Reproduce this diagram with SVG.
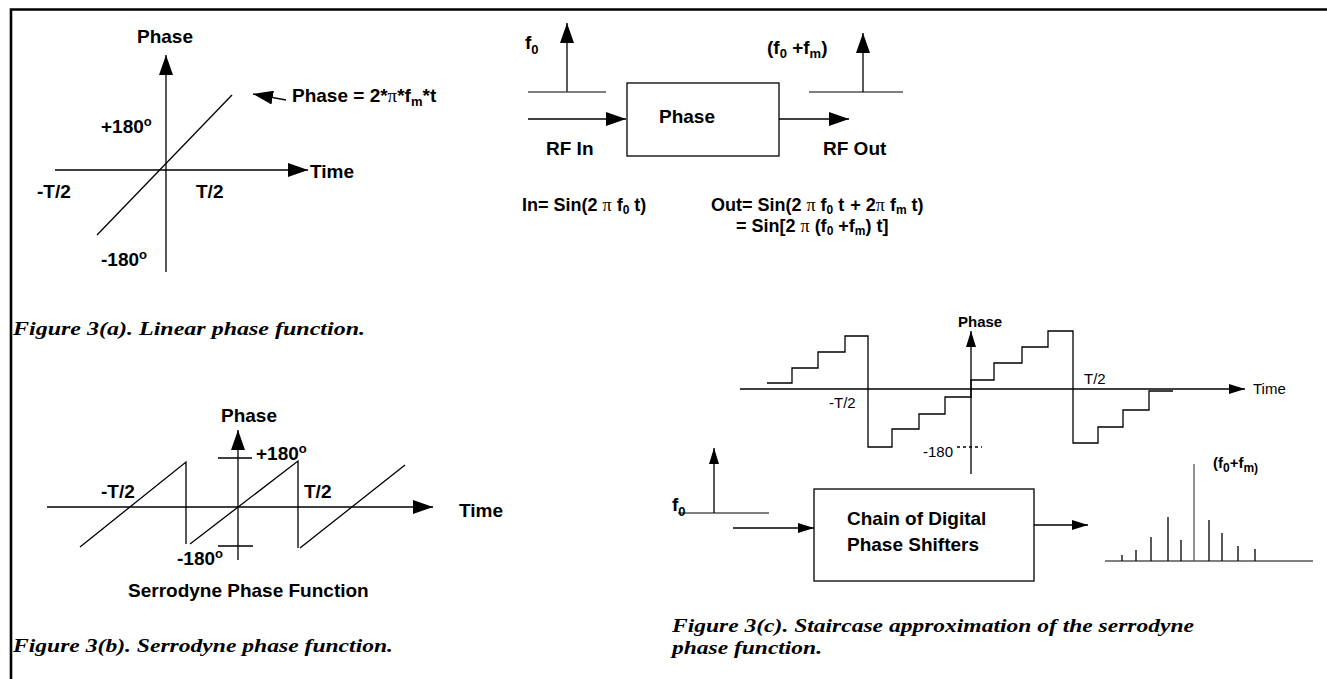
<svg xmlns="http://www.w3.org/2000/svg" width="1327" height="679" viewBox="0 0 1327 679">
<defs>
<marker id="arrL" markerUnits="userSpaceOnUse" markerWidth="20" markerHeight="14" refX="20" refY="7" orient="auto"><path d="M0,0 L20,7 L0,14 Z" fill="#000"/></marker>
<marker id="arrS" markerUnits="userSpaceOnUse" markerWidth="16" markerHeight="10" refX="16" refY="5" orient="auto"><path d="M0,0 L16,5 L0,10 Z" fill="#000"/></marker>
<style>
.ln{stroke:#000;stroke-width:1.3;fill:none}
.gl{stroke:#555;stroke-width:1.3;fill:none}
.t{font-family:"Liberation Sans",Arial,sans-serif;font-weight:bold;font-size:19px;fill:#000}
.eq{font-family:"Liberation Sans",Arial,sans-serif;font-weight:bold;font-size:18px;fill:#000}
.ts{font-family:"Liberation Sans",Arial,sans-serif;font-size:15px;fill:#000}
.tsb{font-family:"Liberation Sans",Arial,sans-serif;font-weight:bold;font-size:15px;fill:#000}
.pi{font-family:"Liberation Serif","Times New Roman",serif;font-weight:normal}
.cap{font-family:"Liberation Serif","Times New Roman",serif;font-weight:bold;font-style:italic;font-size:19.5px;fill:#000}
.box{fill:#fff;stroke:#000;stroke-width:1.3}
</style>
</defs>
<rect width="1327" height="679" fill="#fff"/>
<path d="M11,679 V9.5 H1327" stroke="#000" stroke-width="2.6" fill="none"/>

<!-- Figure 3(a) -->
<g id="fig3a">
<line class="ln" x1="166" y1="272" x2="166" y2="55" marker-end="url(#arrL)"/>
<line class="ln" x1="55" y1="170" x2="308" y2="170" marker-end="url(#arrL)"/>
<line class="ln" x1="97" y1="235" x2="232" y2="95"/>
<line class="ln" x1="286" y1="100" x2="253" y2="94" marker-end="url(#arrL)"/>
<text class="t" x="165" y="43" text-anchor="middle">Phase</text>
<text class="t" x="310" y="178">Time</text>
<text class="t" x="101" y="133">+180<tspan font-size="13" dy="-7">o</tspan></text>
<text class="t" x="37" y="198">-T/2</text>
<text class="t" x="196" y="198">T/2</text>
<text class="t" x="101" y="266">-180<tspan font-size="13" dy="-7">o</tspan></text>
<text class="t" x="292" y="102" font-size="19.5">Phase = 2*<tspan class="pi">π</tspan>*f<tspan font-size="13" dy="4">m</tspan><tspan dy="-4">*t</tspan></text>
<text class="cap" x="13" y="335" textLength="352" lengthAdjust="spacingAndGlyphs">Figure 3(a). Linear phase function.</text>
</g>

<!-- Phase modulator block -->
<g id="connectors">
<line class="ln" x1="567" y1="92" x2="567" y2="23" marker-end="url(#arrL)"/>
<line class="gl" x1="528" y1="92" x2="606" y2="92"/>
<line class="ln" x1="528" y1="119" x2="626" y2="119" marker-end="url(#arrL)"/>
<line class="ln" x1="779" y1="119" x2="849" y2="119" marker-end="url(#arrL)"/>
<line class="gl" x1="809" y1="92" x2="903" y2="92"/>
<line class="ln" x1="863" y1="92" x2="863" y2="33" marker-end="url(#arrL)"/>
<line class="ln" x1="733" y1="528" x2="814" y2="528" marker-end="url(#arrS)"/>
<line class="ln" x1="1034" y1="525" x2="1088" y2="525" marker-end="url(#arrS)"/>
<line class="gl" x1="678" y1="513" x2="769" y2="513"/>
<line class="ln" x1="714" y1="513" x2="714" y2="448" marker-end="url(#arrS)"/>
</g>
<g id="phase-block">
<rect class="box" x="627" y="83" width="152" height="73"/>
<text class="t" x="659" y="123">Phase</text>
</g>
<g id="phase-labels">
<text class="t" x="525" y="49">f<tspan font-size="13" dy="5">0</tspan></text>
<text class="t" x="767" y="54">(f<tspan font-size="13" dy="4">0</tspan><tspan dy="-4"> +f</tspan><tspan font-size="13" dy="4">m</tspan><tspan dy="-4">)</tspan></text>
<text class="t" x="546" y="155">RF In</text>
<text class="t" x="823" y="155">RF Out</text>
<text class="eq" x="522" y="211">In= Sin(2 <tspan class="pi">π</tspan> f<tspan font-size="12" dy="3">0</tspan><tspan dy="-3"> t)</tspan></text>
<text class="eq" x="711" y="211">Out= Sin(2 <tspan class="pi">π</tspan> f<tspan font-size="12" dy="3">0</tspan><tspan dy="-3"> t</tspan><tspan dx="6">+ 2</tspan><tspan class="pi">π</tspan> f<tspan font-size="12" dy="3">m</tspan><tspan dy="-3"> t)</tspan></text>
<text class="eq" x="736" y="232">= Sin[2 <tspan class="pi">π</tspan> (f<tspan font-size="12" dy="3">0</tspan><tspan dy="-3"> +f</tspan><tspan font-size="12" dy="3">m</tspan><tspan dy="-3">) t]</tspan></text>
</g>

<!-- Figure 3(b) -->
<g id="fig3b">
<line class="ln" x1="238" y1="560" x2="238" y2="430" marker-end="url(#arrL)"/>
<line class="ln" x1="47" y1="507" x2="433" y2="507" marker-end="url(#arrL)"/>
<line class="ln" x1="218" y1="458" x2="252" y2="458"/>
<line class="ln" x1="218" y1="546" x2="253" y2="546"/>
<path class="ln" d="M80,547 L186,462 V544 M190,544 L298,461 V548 M300,548 L405,465"/>
<text class="t" x="249" y="422" text-anchor="middle">Phase</text>
<text class="t" x="459" y="517">Time</text>
<text class="t" x="256" y="460">+180<tspan font-size="13" dy="-7">o</tspan></text>
<text class="t" x="177" y="565">-180<tspan font-size="13" dy="-7">o</tspan></text>
<text class="t" x="101" y="498">-T/2</text>
<text class="t" x="304" y="498">T/2</text>
<text class="t" x="128" y="597" font-size="20.5">Serrodyne Phase Function</text>
<text class="cap" x="13" y="652" textLength="380" lengthAdjust="spacingAndGlyphs">Figure 3(b). Serrodyne phase function.</text>
</g>

<!-- Figure 3(c) -->
<g id="fig3c">
<line class="ln" x1="971" y1="474" x2="971" y2="331" marker-end="url(#arrS)"/>
<line class="ln" x1="740" y1="389" x2="1245" y2="389" marker-end="url(#arrS)"/>
<path class="ln" d="M767,383 H792 V368 H818 V352 H845 V336 H868 V447 H892 V429 H919 V414 H945 V397 H971 V380 H994 V363 H1022 V347 H1048 V331 H1073 V443 H1098 V427 H1123 V410 H1149 V391 H1173"/>
<line class="ln" x1="957" y1="447" x2="982" y2="447" stroke-dasharray="3,3"/>
<text class="tsb" x="958" y="327">Phase</text>
<text class="ts" x="1253" y="394">Time</text>
<text class="ts" x="829" y="408">-T/2</text>
<text class="ts" x="1084" y="384">T/2</text>
<text class="ts" x="923" y="457">-180</text>
<text class="t" x="672" y="511">f<tspan font-size="13" dy="5">0</tspan></text>
</g>
<g id="chain-block">
<rect class="box" x="814" y="489" width="220" height="92"/>
<text class="t" x="847" y="525">Chain of Digital</text>
<text class="t" x="847" y="551">Phase Shifters</text>
</g>
<g id="spectrum">
<line class="gl" x1="1105" y1="561" x2="1313" y2="561"/>
<path class="ln" d="M1122,561 V555 M1136,561 V550 M1151,561 V537 M1168,561 V517 M1181,561 V540 M1209,561 V520 M1222,561 V533 M1238,561 V546 M1255,561 V549"/>
<line class="gl" x1="1194" y1="561" x2="1194" y2="464"/>
<text class="tsb" x="1213" y="468" font-size="16">(f<tspan font-size="12" dy="4">0</tspan><tspan dy="-4">+f</tspan><tspan font-size="12" dy="4">m)</tspan></text>
</g>
<g id="caption3c">
<text class="cap" x="672" y="632" textLength="522" lengthAdjust="spacingAndGlyphs">Figure 3(c). Staircase approximation of the serrodyne</text>
<text class="cap" x="672" y="654" textLength="150" lengthAdjust="spacingAndGlyphs">phase function.</text>
</g>
</svg>
